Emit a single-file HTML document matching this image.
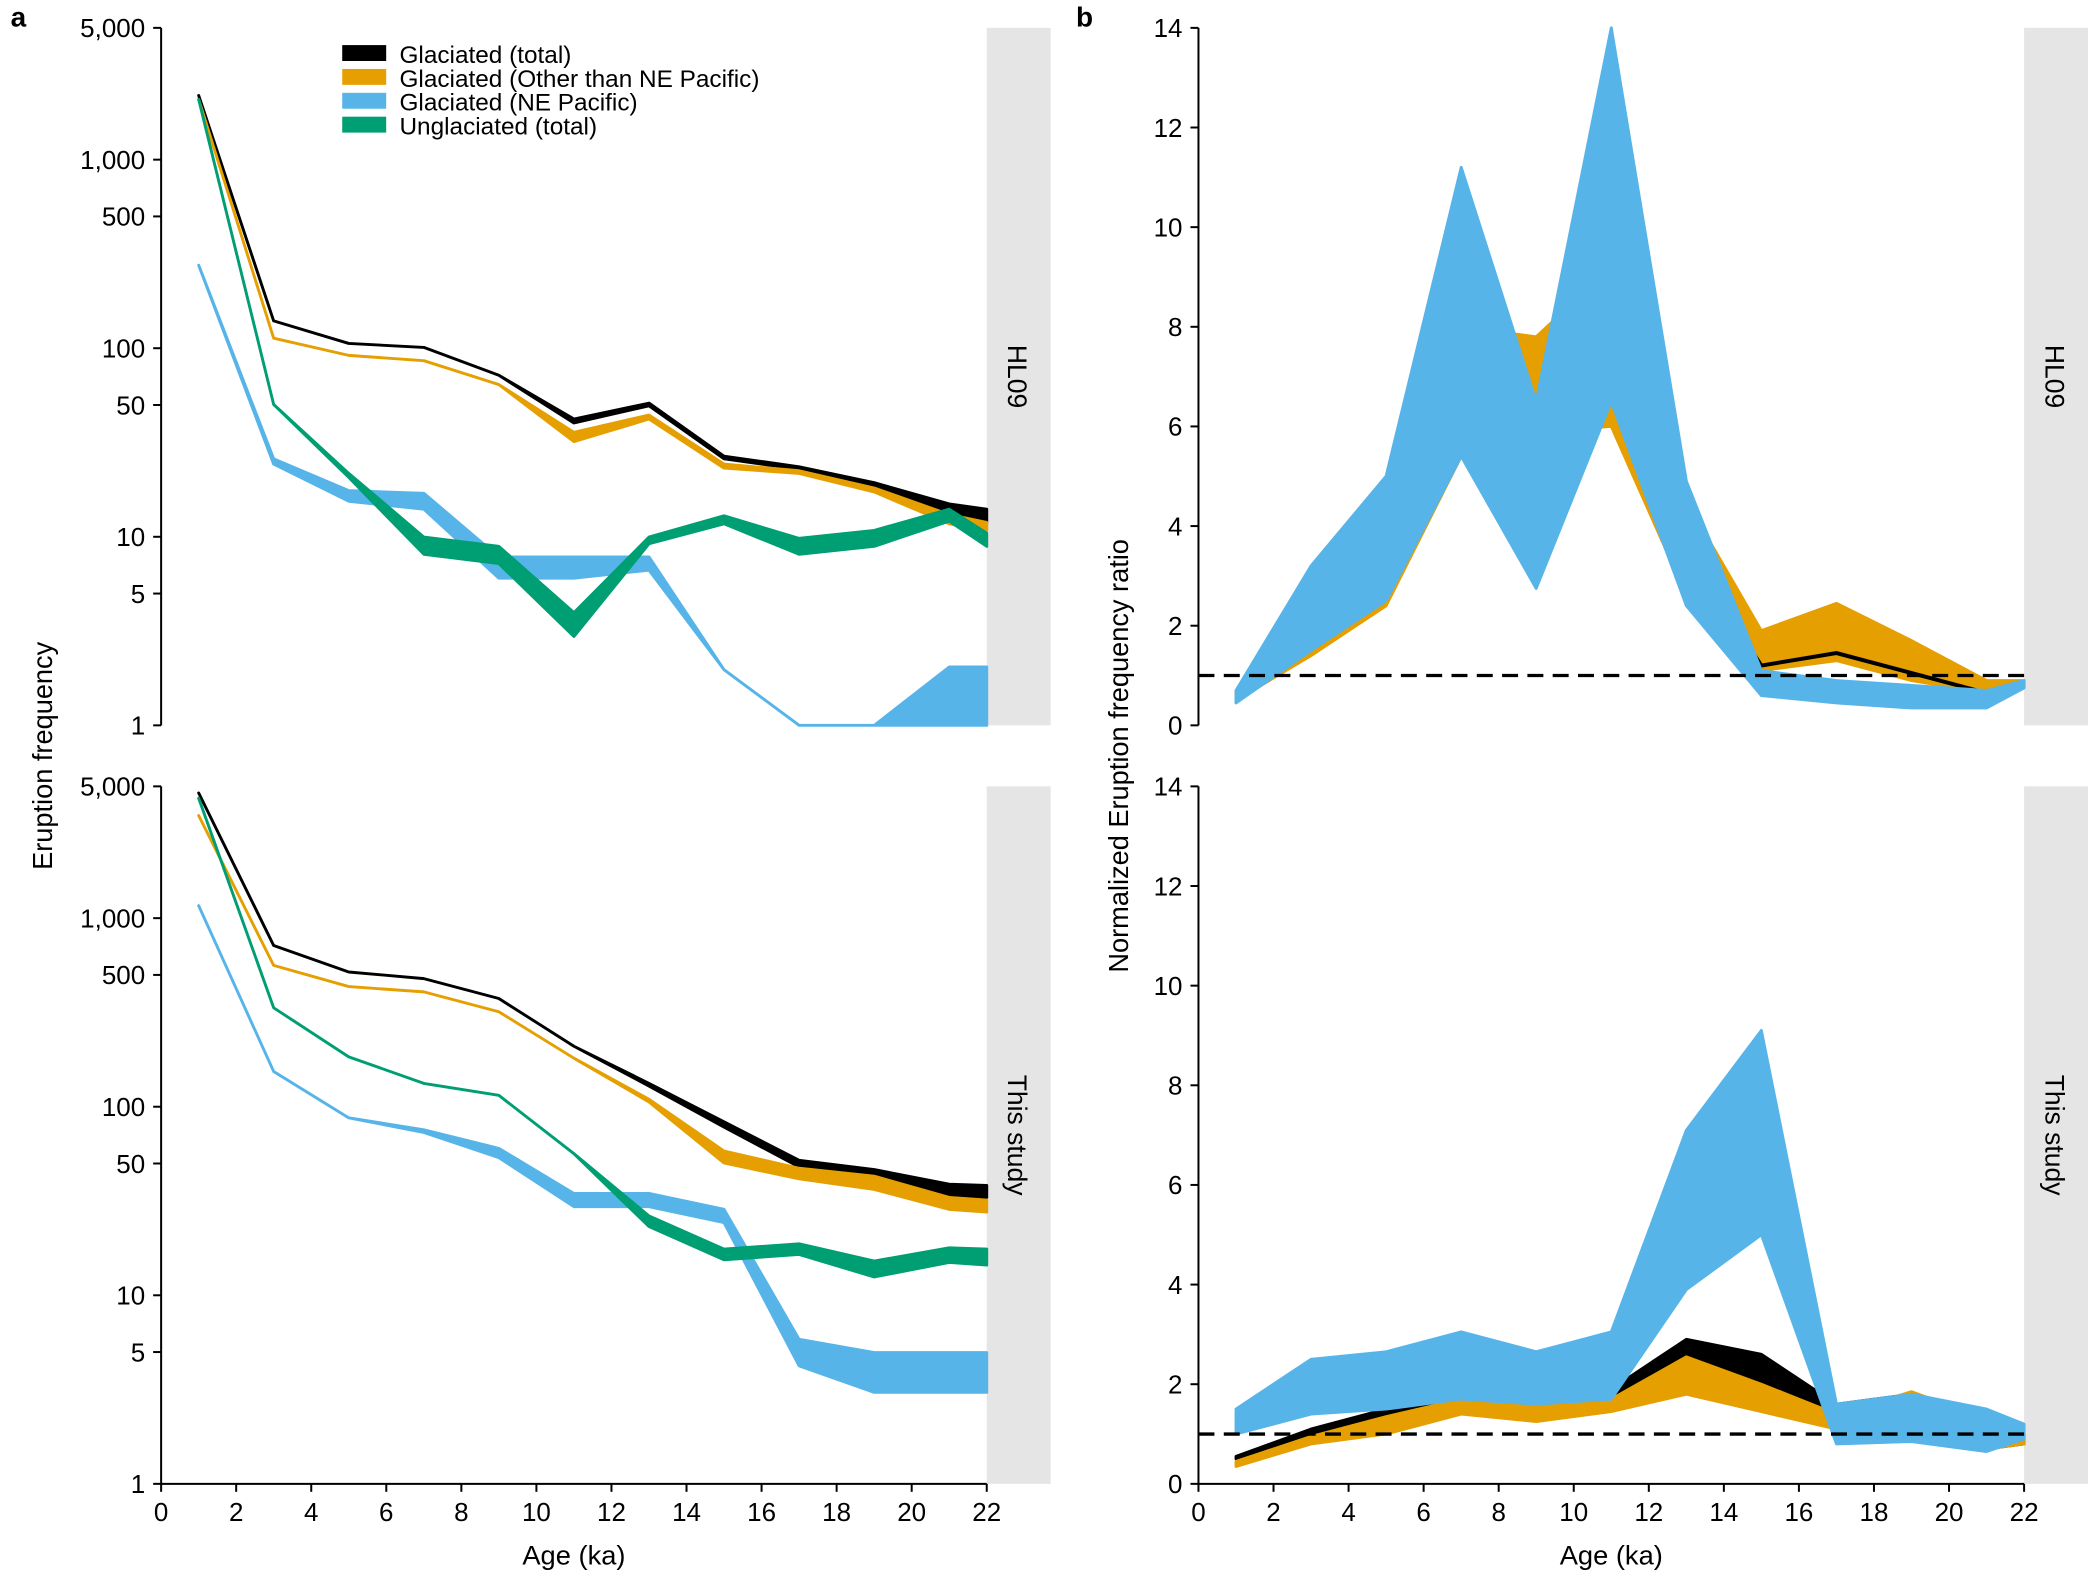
<!DOCTYPE html>
<html><head><meta charset="utf-8"><style>
html,body{margin:0;padding:0;background:#fff;}
svg{display:block;}
text{font-family:"Liberation Sans",Arial,sans-serif;fill:#000;}
</style></head><body>
<svg id="s" width="2088" height="1578" viewBox="0 0 1568 1190" preserveAspectRatio="none" xmlns="http://www.w3.org/2000/svg">
<rect x="0" y="0" width="1568" height="1190" fill="#fff"/>
<rect x="741" y="21" width="48" height="526" fill="#e5e5e5"/>
<rect x="741" y="593" width="48" height="526" fill="#e5e5e5"/>
<rect x="1520" y="21" width="48" height="526" fill="#e5e5e5"/>
<rect x="1520" y="593" width="48" height="526" fill="#e5e5e5"/>
<text transform="translate(757,284) rotate(90)" font-size="20" text-anchor="middle">HL09</text>
<text transform="translate(757,856) rotate(90)" font-size="20" text-anchor="middle">This study</text>
<text transform="translate(1536,284) rotate(90)" font-size="20" text-anchor="middle">HL09</text>
<text transform="translate(1536,856) rotate(90)" font-size="20" text-anchor="middle">This study</text>
<g id="data"></g>
<g id="axes" stroke="#000" stroke-width="1.5" fill="none"></g>
<g id="labels" font-size="19.5"></g>
<text x="8" y="20" font-size="21" font-weight="bold">a</text>
<text x="808" y="20" font-size="21" font-weight="bold">b</text>
<text transform="translate(39,570) rotate(-90)" font-size="20.5" text-anchor="middle">Eruption frequency</text>
<text transform="translate(847,570) rotate(-90)" font-size="20.5" text-anchor="middle">Normalized Eruption frequency ratio</text>
<text x="431" y="1180" font-size="20.5" text-anchor="middle">Age (ka)</text>
<text x="1210" y="1180" font-size="20.5" text-anchor="middle">Age (ka)</text>
<rect x="257" y="34" width="33" height="12" fill="#000"/>
<rect x="257" y="52" width="33" height="12" fill="#E69F00"/>
<rect x="257" y="70" width="33" height="12" fill="#56B4E9"/>
<rect x="257" y="88" width="33" height="12" fill="#009E73"/>
<text x="300" y="47.5" font-size="18.3">Glaciated (total)</text>
<text x="300" y="65.5" font-size="18.3">Glaciated (Other than NE Pacific)</text>
<text x="300" y="83.5" font-size="18.3">Glaciated (NE Pacific)</text>
<text x="300" y="101.5" font-size="18.3">Unglaciated (total)</text>
</svg>
<script>
var NS="http://www.w3.org/2000/svg";
var D=document.getElementById("data"),A=document.getElementById("axes"),L=document.getElementById("labels");
function el(p,t,a){var e=document.createElementNS(NS,t);for(var k in a)e.setAttribute(k,a[k]);p.appendChild(e);return e;}
var ages=[1,3,5,7,9,11,13,15,17,19,21,22];
var C={k:"#000",o:"#E69F00",b:"#56B4E9",g:"#009E73"};
function band(x0,up,lo,col,yf){
 var pts=[];for(var i=0;i<ages.length;i++)pts.push((x0+ages[i]*620/22).toFixed(1)+","+yf(up[i]).toFixed(1));
 for(var i=ages.length-1;i>=0;i--)pts.push((x0+ages[i]*620/22).toFixed(1)+","+yf(lo[i]).toFixed(1));
 el(D,"polygon",{points:pts.join(" "),fill:col,stroke:col,"stroke-width":"2.2","stroke-linejoin":"round"});
}
var id=function(v){return v;};
band(121,[72,242,259,262,283,316,304,344,352,364,380,384],[72,242,259,262,283,319,306,346,354,366,386,394],C.k,id);
band(121,[75,255,268,272,290,326,313,350,355,368,388,394],[75,255,268,272,290,333,316,353,357,371,395,400],C.o,id);
band(121,[200,346,370,372,420,420,420,505,547,547,503,503],[200,350,378,384,436,436,430,505,547,547,547,547],C.b,id);
band(121,[75,305,357,405,412,462,405,389,406,400,384,402],[75,305,360,418,425,480,410,395,418,412,393,412],C.g,id);
band(121,[598,713,733,738,753,789,817,846,875,882,893,894],[598,713,733,738,753,789,819,850,880,889,901,903],C.k,id);
band(121,[615,728,744,748,763,798,829,868,881,887,903,905],[615,728,744,748,763,798,831,877,889,897,912,914],C.o,id);
band(121,[683,808,843,852,866,900,900,912,1010,1020,1020,1020],[683,808,843,854,873,910,910,922,1030,1050,1050,1050],C.b,id);
band(121,[602,760,797,817,826,870,917,942,938,951,941,942],[602,760,797,817,826,870,925,950,946,963,952,954],C.g,id);
var yt=function(v){return 547-37.57*v;},yb=function(v){return 1119-37.57*v;};
band(900,[0.7,1.6,2.6,8.0,7.8,9.2,4.5,1.9,2.45,1.7,0.9,0.9],[0.5,1.4,2.4,5.4,5.9,6.0,2.6,1.1,1.3,0.9,0.65,0.8],C.o,yt);
// black line in top b
(function(){var v=[[13,3.5],[15,1.2],[17,1.45],[19,1.05],[21,0.65],[22,0.85]];
 el(D,"polyline",{points:v.map(function(p){return (900+p[0]*620/22).toFixed(1)+","+yt(p[1]).toFixed(1);}).join(" "),fill:"none",stroke:"#000","stroke-width":3});})();
band(900,[0.7,3.2,5.0,11.2,6.5,14.0,4.9,1.1,0.9,0.8,0.7,0.9],[0.45,1.5,2.5,5.4,2.75,6.5,2.4,0.6,0.45,0.35,0.35,0.75],C.b,yt);
band(900,[0.55,1.1,1.5,1.75,1.65,1.9,2.9,2.6,1.6,1.8,1.3,1.0],[0.5,1.0,1.35,1.6,1.5,1.7,2.5,2.0,1.4,0.9,0.7,0.8],C.k,yb);
band(900,[0.45,0.95,1.35,1.7,1.55,1.7,2.55,2.0,1.4,1.85,1.3,1.0],[0.35,0.8,1.0,1.4,1.25,1.45,1.8,1.45,1.1,0.9,0.7,0.8],C.o,yb);
band(900,[1.5,2.5,2.65,3.05,2.65,3.05,7.1,9.1,1.6,1.8,1.5,1.2],[1.0,1.4,1.5,1.7,1.6,1.7,3.9,5.0,0.8,0.85,0.65,0.9],C.b,yb);
el(D,"line",{x1:900,x2:1520,y1:yt(1),y2:yt(1),stroke:"#000","stroke-width":2.5,"stroke-dasharray":"12,7"});
el(D,"line",{x1:900,x2:1520,y1:yb(1),y2:yb(1),stroke:"#000","stroke-width":2.5,"stroke-dasharray":"12,7"});
var lt=[[5000,"5,000"],[1000,"1,000"],[500,"500"],[100,"100"],[50,"50"],[10,"10"],[5,"5"],[1,"1"]];
[547,1119].forEach(function(y1){
 el(A,"line",{x1:121,x2:121,y1:y1-526,y2:y1});
 lt.forEach(function(t){var y=y1-142.2*Math.log10(t[0]);el(A,"line",{x1:115,x2:121,y1:y,y2:y});
  var tx=el(L,"text",{x:109,y:y+7,"text-anchor":"end"});tx.textContent=t[1];});
 el(A,"line",{x1:900,x2:900,y1:y1-526,y2:y1});
 for(var v=0;v<=14;v+=2){var y=y1-37.57*v;el(A,"line",{x1:894,x2:900,y1:y,y2:y});
  var tx=el(L,"text",{x:888,y:y+7,"text-anchor":"end"});tx.textContent=v;}
});
[121,900].forEach(function(x0){
 el(A,"line",{x1:x0,x2:x0+620,y1:1119,y2:1119});
 for(var v=0;v<=22;v+=2){var x=x0+v*620/22;el(A,"line",{x1:x,x2:x,y1:1119,y2:1125});
  var tx=el(L,"text",{x:x,y:1147,"text-anchor":"middle"});tx.textContent=v;}
});
</script>
</body></html>
